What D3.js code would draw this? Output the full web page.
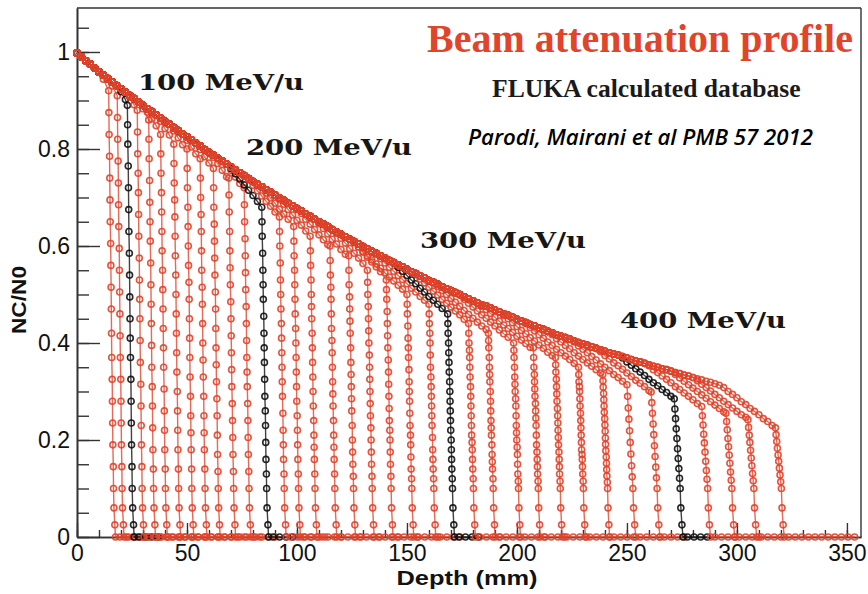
<!DOCTYPE html>
<html><head><meta charset="utf-8">
<script src="https://cdn.jsdelivr.net/npm/d3@7"></script>
<style>html,body{margin:0;padding:0;background:#fff}svg{display:block}</style>
</head><body>
<svg id="chart" width="868" height="594"></svg>
<script>
// ---------------- data ----------------
const xTicks = [0, 50, 100, 150, 200, 250, 300, 350];
const yTicks = [0, 0.2, 0.4, 0.6, 0.8, 1];
const yTickLabels = ["0", "0.2", "0.4", "0.6", "0.8", "1"];
const energyLabels = ["100 MeV/u", "200 MeV/u", "300 MeV/u", "400 MeV/u"];
const titleText = "Beam attenuation profile";
const subtitleText = "FLUKA calculated database";
const refText = "Parodi,  Mairani et al PMB 57 2012";

// common attenuation band (depth every 2 mm, 0..320 mm)
const envValue = [0.998,
 0.990,0.982,0.975,0.967,0.959, 0.952,0.945,0.938,0.931,0.924,
 0.917,0.910,0.904,0.897,0.890, 0.883,0.877,0.870,0.864,0.857,
 0.851,0.844,0.838,0.831,0.825, 0.819,0.812,0.806,0.799,0.793,
 0.787,0.781,0.775,0.769,0.763, 0.757,0.751,0.745,0.739,0.733,
 0.727,0.722,0.716,0.711,0.705, 0.699,0.694,0.688,0.683,0.677,
 0.672,0.666,0.661,0.655,0.650, 0.645,0.640,0.634,0.629,0.624,
 0.619,0.614,0.609,0.604,0.599, 0.594,0.589,0.585,0.580,0.575,
 0.570,0.566,0.561,0.557,0.552, 0.547,0.543,0.538,0.534,0.529,
 0.525,0.521,0.516,0.512,0.508, 0.504,0.500,0.495,0.491,0.487,
 0.483,0.479,0.476,0.472,0.468, 0.464,0.460,0.457,0.453,0.449,
 0.445,0.442,0.438,0.435,0.431, 0.428,0.424,0.421,0.417,0.414,
 0.411,0.408,0.404,0.401,0.398, 0.395,0.392,0.389,0.386,0.383,
 0.380,0.377,0.375,0.372,0.369, 0.366,0.363,0.361,0.358,0.355,
 0.352,0.350,0.347,0.345,0.342, 0.339,0.337,0.334,0.332,0.329,
 0.326,0.324,0.321,0.319,0.316, 0.313,0.311,0.308,0.306,0.303,
 0.300,0.298,0.295,0.293,0.290, 0.287,0.285,0.282,0.280,0.277];
const envDepthStep = 2;

// labelled energies (100/200/300/400 MeV/u) are drawn in black
const curveBlack = [false,false,true,false,false,false,false,false,false,false,false,false,true,
  false,false,false,false,false,false,false,false,false,true,false,false,false,false,false,false,
  false,false,false,true,false,false,false,false];

// per-curve shoulder, fall-off and zero tail: depth, value, depth, value ...
const curveTails = [
 [12,.944, 14.4,.92,14.5,.875,14.6,.83,14.8,.785,14.9,.74,15.0,.695,15.1,.65,15.3,.605,15.4,.56,15.5,.515,15.6,.47,15.7,.42,15.8,.37,16.0,.325,16.1,.28,16.2,.235,16.3,.19,16.5,.145,16.6,.10,16.8,.06,17.2,.025,17.5,0, 19.5,0,22.5,0,25.5,0,28.5,0],
 [16,.930, 18.3,.91,18.4,.865,18.5,.82,18.7,.775,18.8,.73,18.9,.685,19.0,.64,19.2,.595,19.3,.55,19.4,.505,19.5,.46,19.6,.415,19.7,.37,19.9,.325,20.0,.28,20.1,.235,20.2,.19,20.4,.145,20.5,.10,20.7,.06,21.1,.025,21.4,0, 23.4,0,26.4,0,29.4,0,32.4,0],
 [20,.918,22,.902, 22.9,.89,23.0,.85,23.1,.81,23.3,.765,23.4,.72,23.5,.675,23.6,.63,23.8,.585,23.9,.54,24.0,.495,24.1,.45,24.2,.41,24.3,.37,24.5,.325,24.6,.28,24.7,.235,24.8,.19,25.0,.145,25.1,.10,25.3,.06,25.7,.025,26.0,0, 28,0,31,0,34,0,37,0],
 [24,.907,26,.891, 27.4,.88,27.5,.835,27.6,.79,27.8,.75,27.9,.71,28.0,.665,28.1,.62,28.3,.575,28.4,.53,28.5,.49,28.6,.45,28.7,.405,28.8,.36,29.0,.315,29.1,.27,29.2,.23,29.3,.19,29.5,.145,29.6,.10,29.8,.06,30.2,.025,30.5,0, 32.5,0,35.5,0,38.5,0,41.5,0],
 [30,.883, 32.6,.86,32.7,.82,32.8,.78,33.0,.735,33.1,.69,33.2,.65,33.3,.61,33.5,.565,33.6,.52,33.7,.48,33.8,.44,33.9,.395,34.0,.35,34.2,.31,34.3,.27,34.4,.225,34.5,.18,34.7,.14,34.8,.10,35.0,.06,35.4,.025,35.7,0, 37.7,0,40.7,0,43.7,0,46.7,0],
 [30,.890,32,.876,34,.862,36,.848, 38,.83,38.1,.79,38.2,.75,38.4,.71,38.5,.67,38.6,.63,38.7,.59,38.9,.55,39.0,.51,39.1,.47,39.2,.43,39.3,.39,39.4,.35,39.6,.305,39.7,.26,39.8,.22,39.9,.18,40.1,.14,40.2,.10,40.4,.06,40.8,.025,41.1,0, 43.1,0,46.1,0,49.1,0,52.1,0],
 [36,.870,38,.857,40,.842,42,.829, 44,.81,44.1,.77,44.2,.73,44.4,.695,44.5,.66,44.6,.62,44.7,.58,44.9,.54,45.0,.50,45.1,.46,45.2,.42,45.3,.38,45.4,.34,45.6,.30,45.7,.26,45.8,.22,45.9,.18,46.1,.14,46.2,.10,46.4,.06,46.8,.025,47.1,0, 49.1,0,52.1,0,55.1,0,58.1,0],
 [42,.851,44,.837,46,.823,48,.809, 50,.80,50.1,.76,50.2,.72,50.4,.68,50.5,.64,50.6,.60,50.7,.56,50.9,.525,51.0,.49,51.1,.45,51.2,.41,51.3,.37,51.4,.33,51.6,.29,51.7,.25,51.8,.215,51.9,.18,52.1,.14,52.2,.10,52.4,.06,52.8,.025,53.1,0, 55.1,0,58.1,0,61.1,0,64.1,0],
 [48,.831,50,.818,52,.804,54,.790, 56,.78,56.1,.74,56.2,.70,56.4,.665,56.5,.63,56.6,.59,56.7,.55,56.9,.515,57.0,.48,57.1,.44,57.2,.40,57.3,.365,57.4,.33,57.6,.29,57.7,.25,57.8,.215,57.9,.18,58.1,.14,58.2,.10,58.4,.06,58.8,.025,59.1,0, 61.1,0,64.1,0,67.1,0,70.1,0],
 [54,.812,56,.799,58,.784,60,.771, 62,.76,62.1,.72,62.2,.68,62.4,.645,62.5,.61,62.6,.575,62.7,.54,62.9,.505,63.0,.47,63.1,.43,63.2,.39,63.3,.355,63.4,.32,63.6,.285,63.7,.25,63.8,.21,63.9,.17,64.1,.135,64.2,.10,64.4,.06,64.8,.025,65.1,0, 67.1,0,70.1,0,73.1,0,76.1,0],
 [62,.783,64,.770,66,.756,68,.743, 69,.74,69.1,.705,69.2,.67,69.4,.63,69.5,.59,69.6,.555,69.7,.52,69.9,.485,70.0,.45,70.1,.415,70.2,.38,70.3,.345,70.4,.31,70.6,.275,70.7,.24,70.8,.205,70.9,.17,71.1,.135,71.2,.10,71.4,.06,71.8,.025,72.1,0, 74.1,0,77.1,0,80.1,0,83.1,0],
 [68,.769,70,.756,72,.742,74,.729, 76,.72,76.1,.685,76.2,.65,76.4,.615,76.5,.58,76.6,.545,76.7,.51,76.9,.475,77.0,.44,77.1,.405,77.2,.37,77.3,.34,77.4,.31,77.6,.275,77.7,.24,77.8,.205,77.9,.17,78.1,.135,78.2,.10,78.4,.06,78.8,.025,79.1,0, 81.1,0,84.1,0,87.1,0,90.1,0],
 [70,.760,72,.749,74,.738,76,.726,78,.715,80,.704,82,.692, 84,.68,84.1,.65,84.2,.62,84.4,.585,84.5,.55,84.6,.52,84.7,.49,84.9,.455,85.0,.42,85.1,.39,85.2,.36,85.3,.325,85.4,.29,85.6,.26,85.7,.23,85.8,.195,85.9,.16,86.1,.13,86.2,.10,86.4,.06,86.8,.025,87.1,0, 89.1,0,92.1,0,95.1,0,98.1,0],
 [78,.736,80,.725,82,.714,84,.703,86,.692,88,.682,90,.670, 92,.66,92.1,.63,92.2,.60,92.4,.565,92.5,.53,92.6,.50,92.7,.47,92.9,.44,93.0,.41,93.1,.38,93.2,.35,93.3,.32,93.4,.29,93.6,.255,93.7,.22,93.8,.19,93.9,.16,94.1,.13,94.2,.10,94.4,.06,94.8,.025,95.1,0, 97.1,0,100.1,0,103.1,0,106.1,0],
 [84,.721,86,.709,88,.699,90,.688,92,.676,94,.666,96,.655, 98.5,.64,98.6,.61,98.7,.58,98.9,.55,99.0,.52,99.1,.49,99.2,.46,99.4,.43,99.5,.40,99.6,.37,99.7,.34,99.8,.31,99.9,.28,100.1,.25,100.2,.22,100.3,.19,100.4,.16,100.6,.13,100.7,.10,100.9,.06,101.3,.025,101.6,0, 103.6,0,106.6,0,109.6,0,112.6,0],
 [92,.696,94,.686,96,.675,98,.664,100,.653,102,.643,104,.631, 106,.62,106.1,.59,106.2,.56,106.4,.53,106.5,.50,106.6,.475,106.7,.45,106.9,.42,107.0,.39,107.1,.36,107.2,.33,107.3,.30,107.4,.27,107.6,.24,107.7,.21,107.8,.185,107.9,.16,108.1,.13,108.2,.10,108.4,.06,108.8,.025,109.1,0, 111.1,0,114.1,0,117.1,0,120.1,0],
 [100,.677,102,.667,104,.655,106,.645,108,.634,110,.623,112,.613,114,.603, 115,.60,115.1,.57,115.2,.54,115.4,.515,115.5,.49,115.6,.46,115.7,.43,115.9,.405,116.0,.38,116.1,.35,116.2,.32,116.3,.295,116.4,.27,116.6,.24,116.7,.21,116.8,.185,116.9,.16,117.1,.13,117.2,.10,117.4,.06,117.8,.025,118.1,0, 120.1,0,123.1,0,126.1,0,129.1,0],
 [110,.646,112,.636,114,.625,116,.614,118,.604,120,.593,122,.583, 123.5,.58,123.6,.55,123.7,.52,123.9,.495,124.0,.47,124.1,.445,124.2,.42,124.4,.39,124.5,.36,124.6,.335,124.7,.31,124.8,.285,124.9,.26,125.1,.23,125.2,.20,125.3,.175,125.4,.15,125.6,.125,125.7,.10,125.9,.06,126.3,.025,126.6,0, 128.6,0,131.6,0,134.6,0,137.6,0],
 [118,.626,120,.616,122,.606,124,.595,126,.585,128,.575,130,.564, 132,.55,132.1,.525,132.2,.50,132.4,.475,132.5,.45,132.6,.425,132.7,.40,132.9,.375,133.0,.35,133.1,.325,133.2,.30,133.3,.275,133.4,.25,133.6,.225,133.7,.20,133.8,.175,133.9,.15,134.1,.125,134.2,.10,134.4,.06,134.8,.025,135.1,0, 137.1,0,140.1,0,143.1,0,146.1,0],
 [126,.608,128,.598,130,.587,132,.577,134,.567,136,.557,138,.547, 140.6,.53,140.7,.51,140.8,.49,141.0,.465,141.1,.44,141.2,.415,141.3,.39,141.5,.365,141.6,.34,141.7,.315,141.8,.29,141.9,.265,142.0,.24,142.2,.22,142.3,.20,142.4,.175,142.5,.15,142.7,.125,142.8,.10,143.0,.06,143.4,.025,143.7,0, 145.7,0,148.7,0,151.7,0,154.7,0],
 [126,.607,128,.598,130,.589,132,.580,134,.571,136,.563,138,.554,140,.545,142,.536,144,.528,146,.519,148,.511, 150,.50,150.1,.48,150.2,.46,150.4,.435,150.5,.41,150.6,.39,150.7,.37,150.9,.345,151.0,.32,151.1,.30,151.2,.28,151.3,.255,151.4,.23,151.6,.21,151.7,.19,151.8,.165,151.9,.14,152.1,.12,152.2,.10,152.4,.06,152.8,.025,153.1,0, 155.1,0,158.1,0,161.1,0,164.1,0],
 [136,.583,138,.574,140,.565,142,.556,144,.548,146,.539,148,.531,150,.522,152,.513,154,.505,156,.496,158,.488, 160,.48,160.1,.46,160.2,.44,160.4,.42,160.5,.40,160.6,.375,160.7,.35,160.9,.33,161.0,.31,161.1,.29,161.2,.27,161.3,.25,161.4,.23,161.6,.205,161.7,.18,161.8,.16,161.9,.14,162.1,.12,162.2,.10,162.4,.06,162.8,.025,163.1,0, 165.1,0,168.1,0,171.1,0,174.1,0],
 [144,.565,146,.556,148,.548,150,.539,152,.530,154,.522,156,.513,158,.505,160,.496,162,.488,164,.480,166,.471, 168.5,.46,168.6,.44,168.7,.42,168.9,.40,169.0,.38,169.1,.36,169.2,.34,169.4,.32,169.5,.30,169.6,.28,169.7,.26,169.8,.24,169.9,.22,170.1,.20,170.2,.18,170.3,.16,170.4,.14,170.6,.12,170.7,.10,170.9,.06,171.3,.025,171.6,0, 173.6,0,176.6,0,179.6,0,182.6,0],
 [154,.541,156,.532,158,.524,160,.515,162,.507,164,.499,166,.490,168,.482,170,.474,172,.466,174,.458,176,.449, 178,.44,178.1,.42,178.2,.40,178.4,.385,178.5,.37,178.6,.35,178.7,.33,178.9,.31,179.0,.29,179.1,.27,179.2,.25,179.3,.23,179.4,.21,179.6,.195,179.7,.18,179.8,.16,179.9,.14,180.1,.12,180.2,.10,180.4,.06,180.8,.025,181.1,0, 183.1,0,186.1,0,189.1,0,192.1,0],
 [164,.517,166,.508,168,.500,170,.492,172,.484,174,.476,176,.467,178,.459,180,.451,182,.443,184,.435,186,.428, 187,.42,187.1,.405,187.2,.39,187.4,.37,187.5,.35,187.6,.335,187.7,.32,187.9,.30,188.0,.28,188.1,.26,188.2,.24,188.3,.225,188.4,.21,188.6,.19,188.7,.17,188.8,.155,188.9,.14,189.1,.12,189.2,.10,189.4,.06,189.8,.025,190.1,0, 192.1,0,195.1,0,198.1,0,201.1,0],
 [174,.499,176,.490,178,.482,180,.474,182,.466,184,.458,186,.451,188,.443,190,.435,192,.427,194,.419,196,.412, 198.5,.40,198.6,.385,198.7,.37,198.9,.35,199.0,.33,199.1,.315,199.2,.30,199.4,.285,199.5,.27,199.6,.25,199.7,.23,199.8,.215,199.9,.20,200.1,.185,200.2,.17,200.3,.15,200.4,.13,200.6,.115,200.7,.10,200.9,.06,201.3,.025,201.6,0, 203.6,0,206.6,0,209.6,0,212.6,0],
 [184,.476,186,.469,188,.461,190,.453,192,.445,194,.437,196,.430,198,.422,200,.414,202,.406,204,.399,206,.391, 207.5,.39,207.6,.37,207.7,.35,207.9,.335,208.0,.32,208.1,.305,208.2,.29,208.4,.275,208.5,.26,208.6,.245,208.7,.23,208.8,.21,208.9,.19,209.1,.175,209.2,.16,209.3,.145,209.4,.13,209.6,.115,209.7,.10,209.9,.06,210.3,.025,210.6,0, 212.6,0,215.6,0,218.6,0,221.6,0],
 [194,.457,196,.450,198,.442,200,.434,202,.426,204,.419,206,.411,208,.404,210,.396,212,.389,214,.381,216,.374, 217.5,.37,217.6,.355,217.7,.34,217.9,.325,218.0,.31,218.1,.295,218.2,.28,218.4,.265,218.5,.25,218.6,.235,218.7,.22,218.8,.205,218.9,.19,219.1,.175,219.2,.16,219.3,.145,219.4,.13,219.6,.115,219.7,.10,219.9,.06,220.3,.025,220.6,0, 222.6,0,225.6,0,228.6,0,231.6,0],
 [204,.440,206,.432,208,.425,210,.417,212,.410,214,.402,216,.395,218,.387,220,.380,222,.373,224,.366,226,.358, 228,.35,228.1,.335,228.2,.32,228.4,.31,228.5,.30,228.6,.285,228.7,.27,228.9,.255,229.0,.24,229.1,.225,229.2,.21,229.3,.195,229.4,.18,229.6,.17,229.7,.16,229.8,.145,229.9,.13,230.1,.115,230.2,.10,230.4,.06,230.8,.025,231.1,0, 233.1,0,236.1,0,239.1,0,242.1,0],
 [216,.417,218,.409,220,.402,222,.395,224,.388,226,.380,228,.373,230,.366,232,.359,234,.352,236,.345,238,.338, 239,.335,239.1,.322,239.2,.309,239.4,.296,239.5,.283,239.6,.270,239.7,.257,239.9,.244,240.0,.231,240.1,.218,240.2,.204,240.3,.191,240.4,.178,240.6,.165,240.7,.152,240.8,.139,240.9,.126,241.1,.113,241.2,.10,241.4,.06,241.8,.025,242.1,0, 244.1,0,247.1,0,250.1,0,253.1,0],
 [226,.402,228,.394,230,.387,232,.380,234,.372,236,.365,238,.357,240,.350,242,.343,244,.335,246,.329,248,.321, 250,.314,250.3,.290,250.6,.266,250.9,.243,251.2,.219,251.5,.195,251.8,.171,252.1,.147,252.4,.124,252.7,.10,253,.06,253.5,.025,254,0, 256,0,259,0,262,0,265,0],
 [238,.382,240,.374,242,.367,244,.359,246,.353,248,.346,250,.338,252,.331,254,.323,256,.317,258,.310,260,.302, 261,.299,261.3,.277,261.6,.255,261.9,.233,262.2,.211,262.5,.188,262.8,.166,263.1,.144,263.4,.122,263.7,.10,264,.06,264.5,.025,265,0, 267,0,270,0,273,0,276,0],
 [248,.369,250,.361,252,.354,254,.347,256,.340,258,.333,260,.325,262,.318,264,.312,266,.304,268,.298,270,.290, 271.5,.285,271.8,.264,272.1,.244,272.4,.223,272.7,.203,273,.182,273.3,.162,273.6,.141,273.9,.121,274.2,.10,274.5,.06,275,.025,275.5,0, 277.5,0,280.5,0,283.5,0,286.5,0],
 [260,.353,262,.345,264,.339,266,.332,268,.325,270,.318,272,.310,274,.304,276,.297,278,.290,280,.283,282,.275, 284,.269,284.3,.250,284.6,.231,284.9,.212,285.2,.194,285.5,.175,285.8,.156,286.1,.137,286.4,.119,286.7,.10,287,.06,287.5,.025,288,0, 290,0,293,0,296,0,299,0],
 [272,.335,274,.328,276,.321,278,.314,280,.307,282,.300,284,.293,286,.286,288,.279,290,.272,292,.265,294,.258, 295,.255,295.3,.238,295.6,.221,295.9,.203,296.2,.186,296.5,.169,296.8,.152,297.1,.134,297.4,.117,297.7,.10,298,.06,298.5,.025,299,0, 301,0,304,0,307,0,310,0],
 [282,.322,284,.315,286,.308,288,.301,290,.294,292,.287,294,.280,296,.273,298,.266,300,.259,302,.252,304,.247, 305,.242,305.3,.226,305.6,.210,305.9,.195,306.2,.179,306.5,.163,306.8,.147,307.1,.131,307.4,.116,307.7,.10,308,.06,308.5,.025,309,0, 311,0,314,0,317,0,320,0],
 [294,.308,296,.300,298,.294,300,.287,302,.279,304,.273,306,.265,308,.259,310,.252,312,.244,314,.238,316,.230, 317.5,.225,317.8,.211,318.1,.197,318.4,.183,318.7,.169,319,.156,319.3,.142,319.6,.128,319.9,.114,320.2,.10,320.5,.06,321,.025,321.5,0, 323.5,0,326.5,0,329.5,0,332.5,0,335.5,0,338.5,0,341.5,0,344.5,0,347.5,0,350.5,0,353.5,0]
];

// ---------------- layout ----------------
const RED = "#e0432a";
const svg = d3.select("#chart");
const plot = {left: 77, top: 8, right: 861, bottom: 537};
const x = d3.scaleLinear().domain([0, 356.4]).range([plot.left, plot.right]);
const y = d3.scaleLinear().domain([0, 1.0907]).range([plot.bottom, plot.top]);

const envelope = envValue.map((v, i) => [i * envDepthStep, v]);
const curves = curveTails.map((flat, ci) => {
  const own = [];
  for (let k = 0; k < flat.length; k += 2) own.push([flat[k], flat[k + 1]]);
  const start = own[0][0];
  const pts = envelope.filter(p => p[0] < start - 0.5).concat(own);
  return {pts, black: curveBlack[ci]};
});

// ---------------- axes ----------------
const axisG = svg.append("g").attr("class", "axes");
const yMinor = d3.range(0, 22).map(i => i * 0.05).filter(v => v <= 1.06);
axisG.append("g").attr("transform", `translate(${plot.left},0)`)
  .call(d3.axisLeft(y).tickValues(yMinor).tickSizeInner(-12).tickSizeOuter(0).tickFormat(""));
axisG.append("g").attr("transform", `translate(${plot.left},0)`)
  .call(d3.axisLeft(y).tickValues(yTicks).tickSizeInner(-23).tickSizeOuter(0).tickPadding(7)
    .tickFormat((d, i) => yTickLabels[i]));
const xMinor = d3.range(0, 36).map(i => i * 10);
axisG.append("g").attr("transform", `translate(0,${plot.bottom})`)
  .call(d3.axisBottom(x).tickValues(xMinor).tickSizeInner(-7).tickSizeOuter(0).tickFormat(""));
axisG.append("g").attr("transform", `translate(0,${plot.bottom})`)
  .call(d3.axisBottom(x).tickValues(xTicks).tickSizeInner(-14).tickSizeOuter(0).tickPadding(8));
axisG.selectAll(".domain").attr("stroke", "#333").attr("stroke-width", 1.6);
axisG.selectAll(".tick line").attr("stroke", "#333").attr("stroke-width", 1.4);
axisG.selectAll(".tick text").attr("font-family", "'Liberation Sans', Arial, sans-serif")
  .attr("font-size", 23).attr("fill", "#111");
axisG.append("line").attr("x1", plot.left).attr("x2", plot.right).attr("y1", plot.top).attr("y2", plot.top)
  .attr("stroke", "#333").attr("stroke-width", 1.4);
axisG.append("line").attr("x1", plot.right).attr("x2", plot.right).attr("y1", plot.top).attr("y2", plot.bottom)
  .attr("stroke", "#333").attr("stroke-width", 1.4);

// ---------------- curves ----------------
const line = d3.line().x(d => x(d[0])).y(d => y(d[1]));
const cg = svg.append("g").attr("class", "curves");
curves.forEach(c => {
  const col = c.black ? "#111" : RED;
  const g = cg.append("g");
  g.append("path").attr("d", line(c.pts)).attr("fill", "none")
    .attr("stroke", col).attr("stroke-opacity", 0.8).attr("stroke-width", 1.4);
  g.selectAll("circle").data(c.pts).join("circle")
    .attr("cx", d => x(d[0])).attr("cy", d => y(d[1])).attr("r", 3)
    .attr("fill", "none").attr("stroke", col).attr("stroke-width", 1.6).attr("stroke-opacity", 0.9);
});

// ---------------- texts ----------------
svg.append("text").text(titleText).attr("x", 427).attr("y", 52)
  .attr("font-family", "'Liberation Serif', 'Times New Roman', serif").attr("font-weight", "bold")
  .attr("font-size", 40).attr("fill", "#e0452b");
svg.append("text").text(subtitleText).attr("x", 492).attr("y", 97)
  .attr("font-family", "'Liberation Serif', 'Times New Roman', serif").attr("font-weight", "bold")
  .attr("font-size", 25.6).attr("fill", "#1a1a1a");
svg.append("text").text(refText).attr("x", 468).attr("y", 145)
  .attr("font-family", "'Open Sans', sans-serif").attr("font-style", "italic").attr("font-weight", 600)
  .attr("font-size", 22).attr("fill", "#000")
  .attr("textLength", 345).attr("lengthAdjust", "spacingAndGlyphs");

const labelPos = [[138, 90], [246, 155], [420, 248], [620, 328]];
energyLabels.forEach((t, i) => {
  svg.append("text").text(t).attr("x", labelPos[i][0]).attr("y", labelPos[i][1])
    .attr("font-family", "'DejaVu Serif', serif").attr("font-weight", "bold")
    .attr("font-size", 22).attr("fill", "#161616")
    .attr("textLength", 166).attr("lengthAdjust", "spacingAndGlyphs");
});

svg.append("text").text("Depth (mm)").attr("x", 467).attr("y", 585).attr("text-anchor", "middle")
  .attr("font-family", "'Liberation Sans', Arial, sans-serif").attr("font-weight", "bold")
  .attr("font-size", 21).attr("fill", "#111")
  .attr("textLength", 141).attr("lengthAdjust", "spacingAndGlyphs");
svg.append("text").text("NC/N0").attr("transform", "translate(26,300) rotate(-90)")
  .attr("text-anchor", "middle")
  .attr("font-family", "'Liberation Sans', Arial, sans-serif").attr("font-weight", "bold")
  .attr("font-size", 21).attr("fill", "#111")
  .attr("textLength", 68).attr("lengthAdjust", "spacingAndGlyphs");
</script>
</body></html>
